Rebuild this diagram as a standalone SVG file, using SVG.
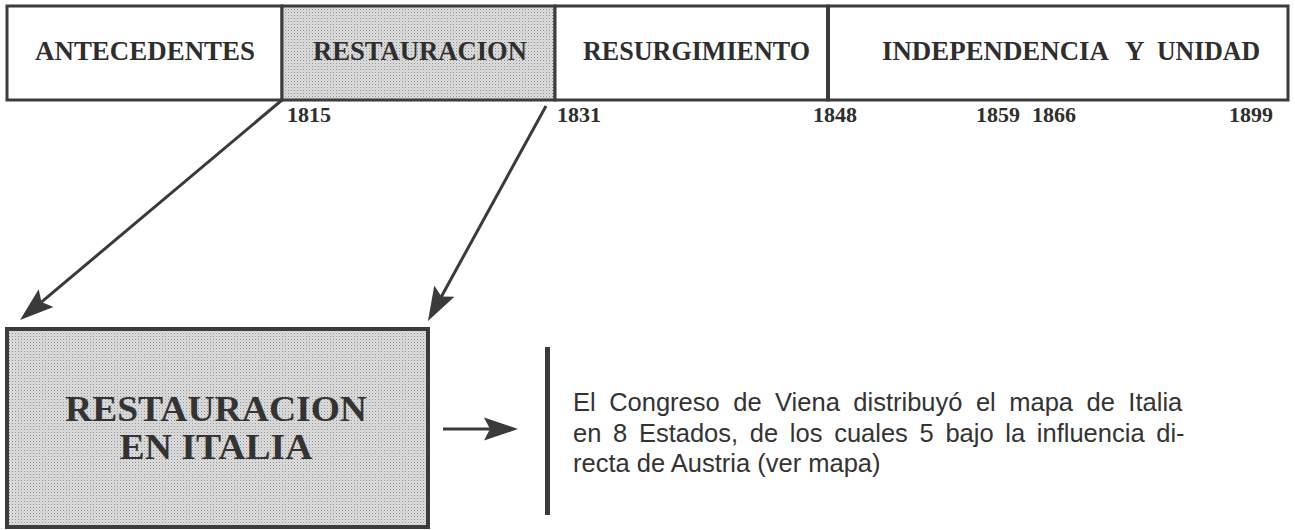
<svg xmlns="http://www.w3.org/2000/svg" width="1295" height="530" viewBox="0 0 1295 530">
  <defs>
    <pattern id="stip" width="3" height="3" patternUnits="userSpaceOnUse">
      <rect width="3" height="3" fill="#dedede"/>
      <rect width="1" height="1" fill="#8e8e8e"/>
      <rect x="1.5" y="1.5" width="1" height="1" fill="#b8b8b8"/>
    </pattern>
    <marker id="head" viewBox="0 -12 34 24" refX="24" refY="0" markerWidth="34" markerHeight="24" markerUnits="userSpaceOnUse" orient="auto">
      <path d="M0,-11.5 L34,0 L0,11.5 L6,0 Z" fill="#3a3a3a"/>
    </marker>
  </defs>
  <style>
    .cell { stroke: #3c3c3c; stroke-width: 3; }
    .white { fill: #ffffff; }
    .grey { fill: url(#stip); }
    .hd { font-family: "Liberation Serif", "Times New Roman", serif; font-weight: bold; font-size: 27px; fill: #2e2e2e; }
    .yr { font-family: "Liberation Serif", "Times New Roman", serif; font-weight: bold; font-size: 22px; fill: #2e2e2e; }
    .big { font-family: "Liberation Serif", "Times New Roman", serif; font-weight: bold; font-size: 36px; fill: #333333; text-anchor: middle; }
    .body { font-family: "Liberation Sans", Arial, sans-serif; font-size: 25.5px; fill: #333333; }
    .conn { stroke: #3a3a3a; stroke-width: 3; fill: none; marker-end: url(#head); }
  </style>
  <rect width="1295" height="530" fill="#ffffff"/>

  <g id="antecedentes">
    <rect class="cell white" x="7" y="6" width="275" height="94"/>
    <text class="hd" x="35" y="60" textLength="220" lengthAdjust="spacingAndGlyphs">ANTECEDENTES</text>
  </g>
  <g id="restauracion">
    <rect class="cell grey" x="282" y="6" width="273" height="94"/>
    <text class="hd" x="313" y="60" textLength="214" lengthAdjust="spacingAndGlyphs">RESTAURACION</text>
  </g>
  <g id="resurgimiento">
    <rect class="cell white" x="555" y="6" width="273" height="94"/>
    <text class="hd" x="583" y="60" textLength="227" lengthAdjust="spacingAndGlyphs">RESURGIMIENTO</text>
  </g>
  <g id="independencia">
    <rect class="cell white" x="828" y="6" width="460" height="94"/>
    <line x1="828" y1="6" x2="828" y2="100" stroke="#3a3a3a" stroke-width="4"/>
    <text class="hd" x="882" y="60" textLength="227" lengthAdjust="spacingAndGlyphs">INDEPENDENCIA</text>
    <text class="hd" x="1125" y="60">Y</text>
    <text class="hd" x="1157" y="60" textLength="103" lengthAdjust="spacingAndGlyphs">UNIDAD</text>
  </g>

  <g id="years">
    <text class="yr" x="287" y="122">1815</text>
    <text class="yr" x="557" y="122">1831</text>
    <text class="yr" x="813" y="122">1848</text>
    <text class="yr" x="976" y="122">1859</text>
    <text class="yr" x="1032" y="122">1866</text>
    <text class="yr" x="1229" y="122">1899</text>
  </g>

  <g id="connectors">
    <line class="conn" x1="282" y1="100" x2="27.7" y2="313.6"/>
    <line class="conn" x1="546" y1="106" x2="432.8" y2="312.2"/>
    <line class="conn" x1="443" y1="429" x2="508" y2="429"/>
  </g>

  <g id="restauracion-italia">
    <rect x="7" y="329" width="421" height="198" fill="url(#stip)" stroke="#3c3c3c" stroke-width="4"/>
    <text class="big" x="216" y="421" textLength="302" lengthAdjust="spacingAndGlyphs">RESTAURACION</text>
    <text class="big" x="216" y="459" textLength="193" lengthAdjust="spacingAndGlyphs">EN ITALIA</text>
  </g>

  <g id="descripcion">
    <rect x="545" y="347" width="5" height="168" fill="#3a3a3a"/>
    <text class="body" x="573" y="411" word-spacing="6.4">El Congreso de Viena distribuyó el mapa de Italia</text>
    <text class="body" x="573" y="442" word-spacing="4.6">en 8 Estados, de los cuales 5 bajo la influencia di-</text>
    <text class="body" x="573" y="472">recta de Austria (ver mapa)</text>
  </g>
</svg>
